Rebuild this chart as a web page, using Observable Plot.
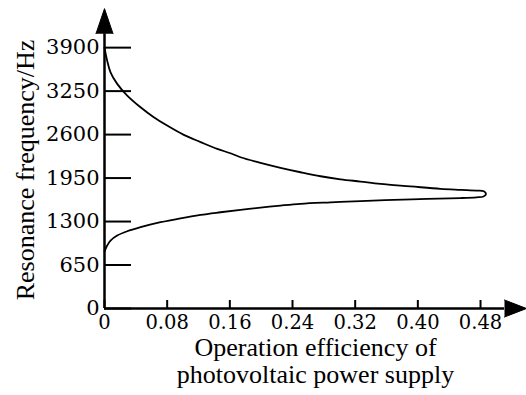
<!DOCTYPE html>
<html><head><meta charset="utf-8">
<script src="https://cdn.jsdelivr.net/npm/d3@7"></script>
<script src="https://cdn.jsdelivr.net/npm/@observablehq/plot@0.6"></script>
<style>html,body{margin:0;padding:0;background:#fff;}</style>
</head><body><div id="chart"></div>
<script>
// Tick values and labels
const xTicks = [0, 0.08, 0.16, 0.24, 0.32, 0.40, 0.48];
const xTickLabels = ["0", "0.08", "0.16", "0.24", "0.32", "0.40", "0.48"];
const yTicks = [0, 650, 1300, 1950, 2600, 3250, 3900];
const yTickLabels = ["0", "650", "1300", "1950", "2600", "3250", "3900"];

// Upper branch (left to right)
const upperX = [0, 0.0034, 0.0077, 0.0162, 0.029, 0.046, 0.0629, 0.080, 0.1012, 0.1226, 0.1439, 0.1608, 0.1736, 0.1991, 0.2247, 0.2502, 0.2758, 0.3013, 0.3268, 0.3523, 0.3906, 0.4289, 0.4545, 0.4749, 0.4842];
const upperY = [3900, 3706, 3531, 3358, 3183, 3008, 2859, 2735, 2596, 2488, 2386, 2321, 2261, 2177, 2103, 2037, 1977, 1932, 1898, 1863, 1826, 1789, 1774, 1763, 1753];
// Turning point
const tipX = [0.487];
const tipY = [1711];
// Lower branch (left to right)
const lowerX = [0, 0.0034, 0.0077, 0.0162, 0.029, 0.046, 0.0715, 0.097, 0.1226, 0.1481, 0.1736, 0.1991, 0.2247, 0.2502, 0.2885, 0.3268, 0.369, 0.412, 0.4545, 0.4749, 0.4838];
const lowerY = [852, 941, 1016, 1091, 1155, 1215, 1290, 1349, 1400, 1439, 1475, 1509, 1539, 1565, 1587, 1606, 1624, 1639, 1651, 1662, 1674];

// Axis extents (arrow bases)
const xAxisEnd = 0.5106;
const yAxisEnd = 4109;

const xTitle = "Operation efficiency of\nphotovoltaic power supply";
const yTitle = "Resonance frequency/Hz";

const serif = "Liberation Serif";
const digitSerif = "DejaVu Serif";

const curve = [];
upperX.forEach((x, i) => curve.push({x, y: upperY[i]}));
tipX.forEach((x, i) => curve.push({x, y: tipY[i]}));
for (let i = lowerX.length - 1; i >= 0; i--) curve.push({x: lowerX[i], y: lowerY[i]});

const chart = Plot.plot({
  width: 526,
  height: 395,
  marginLeft: 104,
  marginRight: 0,
  marginTop: 7,
  marginBottom: 87,
  style: {fontFamily: serif, background: "white", color: "black"},
  x: {domain: [0, 0.5387], axis: null},
  y: {domain: [0, 4500], axis: null},
  marks: [
    // axis lines
    Plot.ruleX([0], {x: 0, y1: 0, y2: yAxisEnd, strokeWidth: 2.5, stroke: "black"}),
    Plot.ruleY([0], {y: 0, x1: 0, x2: xAxisEnd, strokeWidth: 2.5, stroke: "black"}),
    // arrow heads
    Plot.vector([0], {x: 0, y: yAxisEnd, length: 25, r: 8.5, rotate: 0, shape: "spike", anchor: "start", fill: "black", stroke: "black", strokeWidth: 1}),
    Plot.vector([0], {x: xAxisEnd, y: 0, length: 22, r: 8.5, rotate: 90, shape: "spike", anchor: "start", fill: "black", stroke: "black", strokeWidth: 1}),
    // inward ticks
    Plot.axisY({ticks: yTicks, tickSize: 27, dx: 27, tickFormat: () => "", label: null, strokeWidth: 2}),
    Plot.axisX({ticks: xTicks, tickSize: 8, dy: -8, tickFormat: () => "", label: null, strokeWidth: 2}),
    // tick labels
    Plot.text(yTicks, {x: 0, y: d => d, text: (d, i) => yTickLabels[i], textAnchor: "end", dx: -5, fontSize: 21, fontFamily: digitSerif, fill: "black"}),
    Plot.text(xTicks, {x: d => d, y: 0, text: (d, i) => xTickLabels[i], textAnchor: "middle", lineAnchor: "top", dy: 7, fontSize: 19.5, fontFamily: digitSerif, fill: "black"}),
    // curve
    Plot.line(curve, {x: "x", y: "y", curve: "catmull-rom", stroke: "black", strokeWidth: 1.8}),
    // titles
    Plot.text([yTitle], {text: d => d, frameAnchor: "left", textAnchor: "middle", rotate: -90, dx: -71, dy: 12, lineAnchor: "bottom", fontSize: 26, fontFamily: serif, fill: "black"}),
    Plot.text([xTitle], {text: d => d, frameAnchor: "bottom", textAnchor: "middle", lineAnchor: "top", dy: 28.5, fontSize: 26, lineHeight: 1.04, fontFamily: serif, fill: "black"})
  ]
});
document.getElementById("chart").appendChild(chart);
</script>
</body></html>
